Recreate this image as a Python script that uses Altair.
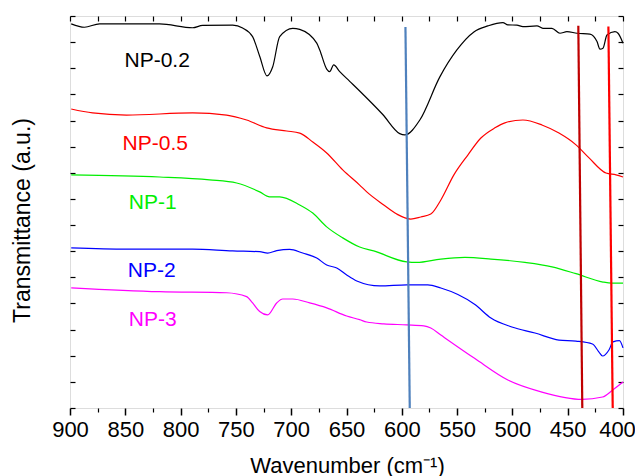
import altair as alt
import pandas as pd

FONT = "Liberation Sans"

series_names = ["NP-0.2", "NP-0.5", "NP-1", "NP-2", "NP-3"]
series_colors = ["#000000", "#ff0000", "#00ee00", "#0000ff", "#ff00ff"]

np02_w = [898.9, 886.9, 873.3, 819.0, 789.1, 780.1, 752.9, 743.9, 734.9, 728.5, 721.9, 716.7,
          710.4, 698.6, 692.3, 676.9, 674.2, 667.9, 665.2, 661.6, 656.1, 647.1, 638.1, 617.2,
          601.9, 597.3, 583.7, 565.6, 550.2, 534.8, 522.2, 508.6, 504.1, 495.9, 490.5, 477.8,
          472.4, 464.3, 457.0, 450.7, 441.6, 429.9, 423.5, 420.8, 418.1, 414.5, 407.3, 404.5, 400.0]
np02_t = [14.70, 14.57, 14.70, 14.70, 14.55, 14.64, 14.65, 14.54, 14.21, 13.46, 12.71, 13.06,
          14.21, 14.53, 14.49, 13.96, 13.70, 12.97, 12.87, 13.13, 12.87, 12.50, 12.13, 11.23,
          10.50, 10.45, 11.02, 12.67, 13.70, 14.39, 14.62, 14.75, 14.66, 14.65, 14.59, 14.62,
          14.53, 14.53, 14.34, 14.40, 14.34, 14.31, 14.02, 13.73, 13.77, 14.27, 14.40, 14.34, 13.96]

np05_w = [898.9, 879.6, 848.9, 789.1, 758.4, 740.3, 722.2, 704.1, 692.3, 680.5, 667.9, 653.4,
          638.1, 631.7, 616.3, 604.5, 591.9, 582.8, 573.8, 564.7, 552.9, 540.3, 528.5, 515.8,
          506.8, 490.5, 473.3, 457.9, 442.5, 430.7, 415.4, 406.3, 400.0]
np05_t = [11.44, 11.29, 11.21, 11.29, 11.21, 11.02, 10.72, 10.60, 10.52, 10.18, 9.76, 9.11,
          8.53, 8.27, 7.77, 7.42, 7.23, 7.31, 7.42, 7.96, 8.92, 9.68, 10.33, 10.72,
          10.91, 11.02, 10.83, 10.52, 10.07, 9.57, 8.99, 8.92, 8.84]

np1_w = [898.9, 819.0, 773.8, 749.3, 728.5, 719.5, 710.4, 692.3, 680.5, 667.9, 653.4, 638.1,
         625.4, 595.5, 586.4, 564.7, 543.0, 519.4, 488.7, 464.2, 442.5, 418.1, 410.0, 400.0]
np1_t = [8.92, 8.84, 8.73, 8.61, 8.27, 8.08, 8.08, 7.77, 7.46, 6.93, 6.51, 6.16,
         6.01, 5.59, 5.57, 5.70, 5.76, 5.70, 5.57, 5.40, 5.14, 4.82, 4.78, 4.78]

np2_w = [898.9, 848.9, 789.1, 752.9, 728.5, 721.3, 713.1, 701.4, 689.6, 676.9, 667.9, 658.8,
         649.8, 640.7, 619.9, 595.5, 576.5, 564.7, 549.3, 533.9, 519.4, 500.5, 479.6, 457.9,
         442.5, 427.6, 421.7, 418.5, 412.7, 409.0, 403.2, 400.0]
np2_t = [6.13, 6.08, 6.08, 6.01, 5.98, 5.93, 6.02, 6.07, 5.93, 5.74, 5.47, 5.36,
         5.09, 4.86, 4.67, 4.71, 4.71, 4.59, 4.34, 3.96, 3.44, 3.10, 2.87, 2.60,
         2.56, 2.45, 2.14, 1.99, 2.22, 2.53, 2.58, 2.30]

np3_w = [898.9, 819.0, 758.4, 740.3, 734.9, 728.5, 721.3, 713.1, 707.7, 698.6, 683.3, 667.9,
         649.8, 638.1, 631.7, 616.3, 595.5, 580.1, 573.8, 564.7, 533.9, 504.1, 473.3, 437.1,
         418.5, 409.3, 400.0]
np3_t = [4.60, 4.45, 4.41, 4.26, 4.02, 3.69, 3.56, 4.02, 4.17, 4.17, 4.02, 3.83,
         3.52, 3.38, 3.29, 3.22, 3.18, 3.14, 3.06, 2.79, 1.89, 1.07, 0.61, 0.33,
         0.42, 0.69, 1.00]

label_w = [850.7, 852.5, 846.8, 847.7, 846.8]
label_t = [13.04, 9.87, 7.60, 5.02, 3.15]

marker_w_top = [596.7, 440.4, 413.2]
marker_w_bottom = [592.8, 436.8, 409.3]
marker_t_top = [14.58, 14.63, 14.60]
marker_t_bottom = [0.0, 0.0, 0.0]
marker_colors = ["#4f81bd", "#c00000", "#ff0000"]

major_ticks = [900, 850, 800, 750, 700, 650, 600, 550, 500, 450, 400]
minor_ticks = [875, 825, 775, 725, 675, 625, 575, 525, 475, 425]
top_ticks = list(range(400, 901, 25))
y_ticks = list(range(0, 16))

rows = []
for name, ws, ts in zip(series_names,
                        [np02_w, np05_w, np1_w, np2_w, np3_w],
                        [np02_t, np05_t, np1_t, np2_t, np3_t]):
    for i, (w, t) in enumerate(zip(ws, ts)):
        rows.append({"series": name, "w": w, "t": t, "i": i})
df = pd.DataFrame(rows)

labels_df = pd.DataFrame({"series": series_names, "w": label_w, "t": label_t})
markers_df = pd.DataFrame({"w": marker_w_top, "w2": marker_w_bottom,
                           "t": marker_t_top, "t2": marker_t_bottom, "c": marker_colors})

xscale = alt.Scale(domain=[400, 900], reverse=True, nice=False, zero=False)
yscale = alt.Scale(domain=[0, 15], nice=False, zero=False)
cscale = alt.Scale(domain=series_names, range=series_colors)

lines = alt.Chart(df).mark_line(strokeWidth=1.2, interpolate="monotone").encode(
    x=alt.X("w:Q", scale=xscale, axis=alt.Axis(
        orient="bottom", values=major_ticks, tickSize=7, tickWidth=1.5, tickColor="black",
        labelFontSize=22, labelPadding=4, labelColor="black", labelFont=FONT,
        labelFlush=False, labelOverlap=False,
        labelOffset={"condition": {"test": "datum.value == 400", "value": -6}, "value": 0},
        domain=False, grid=False,
        title="Wavenumber (cm\u207b\u00b9)", titleFontSize=22, titleFontWeight="normal",
        titleColor="black", titleFont=FONT, titleX=277, titleY=64,
        titleBaseline="alphabetic", titleAlign="center")),
    y=alt.Y("t:Q", scale=yscale, axis=alt.Axis(
        orient="left", values=y_ticks, tickSize=5, offset=-5, tickWidth=1.2, tickColor="black",
        labels=False, domain=False, grid=False,
        title="Transmittance (a.u.)", titleFontSize=23, titleFontWeight="normal",
        titleColor="black", titleFont=FONT, titleX=-53, titleY=204, titleAngle=270,
        titleBaseline="middle", titleAlign="center")),
    color=alt.Color("series:N", scale=cscale, legend=None),
    detail="series:N",
    order=alt.Order("i:Q"),
)

rules = alt.Chart(markers_df).mark_rule(strokeWidth=2.2).encode(
    x=alt.X("w:Q", scale=xscale, axis=alt.Axis(
        orient="bottom", values=minor_ticks, tickSize=4, tickWidth=1.2, tickColor="black",
        labels=False, domain=False, grid=False, title=None)),
    x2="w2:Q",
    y=alt.Y("t:Q", scale=yscale, axis=alt.Axis(
        orient="right", values=y_ticks, tickSize=5, offset=-5, tickWidth=1.2, tickColor="black",
        labels=False, domain=False, grid=False, title=None)),
    y2="t2:Q",
    color=alt.Color("c:N", scale=None),
)

texts = alt.Chart(labels_df).mark_text(align="left", baseline="alphabetic", fontSize=21, font=FONT).encode(
    x=alt.X("w:Q", scale=xscale, axis=alt.Axis(
        orient="top", values=top_ticks, tickSize=5, offset=-5, tickWidth=1.2, tickColor="black",
        labels=False, domain=False, grid=False, title=None)),
    y=alt.Y("t:Q", scale=yscale, axis=None),
    text="series:N",
    color=alt.Color("series:N", scale=cscale, legend=None),
)

chart = alt.layer(lines, rules, texts).resolve_axis(
    x="independent", y="independent"
).properties(
    width=553, height=392,
    autosize=alt.AutoSizeParams(type="none"),
    padding={"left": 62, "top": 8, "right": 12, "bottom": 72},
).configure_view(
    stroke="black", strokeWidth=1.6
).configure(font=FONT)

chart.save("out.html", embed_options={"renderer": "svg", "actions": False})
